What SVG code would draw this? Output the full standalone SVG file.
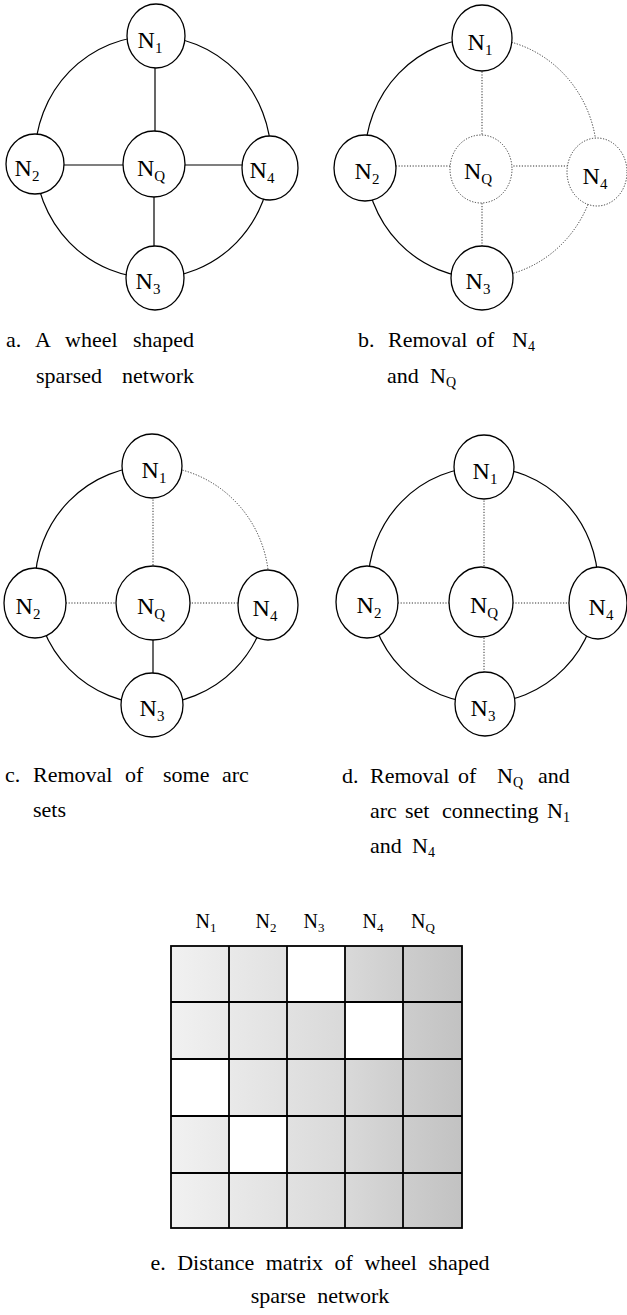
<svg xmlns="http://www.w3.org/2000/svg" width="627" height="1315" viewBox="0 0 627 1315">
  <style>
    text { font-family: "Liberation Serif", "Times New Roman", serif; fill: #000; }
    .lbl { font-size: 24px; text-anchor: middle; }
    .sub { font-size: 15px; }
    .cap { font-size: 22px; }
    .csub { font-size: 14px; }
    .hdr { font-size: 20px; text-anchor: middle; }
    .hsub { font-size: 13px; }
    .node { fill: #fff; stroke: #000; stroke-width: 1.3; }
    .node.gone { stroke: #333; stroke-width: 1; stroke-dasharray: 1.2 1.6; }
    .arc { fill: none; stroke: #000; stroke-width: 1.2; }
    .arc.gone { stroke: #333; stroke-width: 1; stroke-dasharray: 1.2 1.6; }
    .grid { fill: none; stroke: #000; stroke-width: 1.8; }
  </style>
  <defs>
    <linearGradient id="shade" x1="171" y1="0" x2="462" y2="0" gradientUnits="userSpaceOnUse">
      <stop offset="0" stop-color="#f1f1f1"/>
      <stop offset="0.35" stop-color="#e3e3e3"/>
      <stop offset="0.6" stop-color="#d9d9d9"/>
      <stop offset="0.8" stop-color="#cdcdcd"/>
      <stop offset="1" stop-color="#c2c2c2"/>
    </linearGradient>
  </defs>

  <!-- (a) wheel network -->
  <g id="wheel-a">
    <g id="a-connectors">
      <path class="arc" d="M153,36 A118,121 0 0 0 35,157"/>
      <path class="arc" d="M35,157 A118,121 0 0 0 153,278"/>
      <path class="arc" d="M153,36 A118,121 0 0 1 271,157"/>
      <path class="arc" d="M271,157 A118,121 0 0 1 153,278"/>
      <line class="arc" x1="155" y1="36" x2="155" y2="164"/>
      <line class="arc" x1="35" y1="165" x2="270" y2="165"/>
      <line class="arc" x1="154" y1="164" x2="154" y2="278"/>
    </g>
    <g id="a-N1"><ellipse class="node" cx="156" cy="36" rx="29" ry="32"/><text class="lbl" x="150" y="48">N<tspan class="sub" dy="5">1</tspan></text></g>
    <g id="a-N2"><ellipse class="node" cx="35" cy="164" rx="29" ry="30"/><text class="lbl" x="27" y="176">N<tspan class="sub" dy="5">2</tspan></text></g>
    <g id="a-NQ"><ellipse class="node" cx="154" cy="164" rx="31" ry="33"/><text class="lbl" x="151" y="176">N<tspan class="sub" dy="5">Q</tspan></text></g>
    <g id="a-N4"><ellipse class="node" cx="270" cy="168" rx="28" ry="32"/><text class="lbl" x="262" y="178">N<tspan class="sub" dy="5">4</tspan></text></g>
    <g id="a-N3"><ellipse class="node" cx="155" cy="278" rx="29" ry="32"/><text class="lbl" x="148" y="289">N<tspan class="sub" dy="5">3</tspan></text></g>
  </g>

  <!-- (b) N4 and NQ removed -->
  <g id="wheel-b">
    <g id="b-connectors">
      <path class="arc" d="M481,38 A116,120 0 0 0 365,158"/>
      <path class="arc" d="M365,158 A116,120 0 0 0 481,278"/>
      <path class="arc gone" d="M481,38 A116,120 0 0 1 597,158"/>
      <path class="arc gone" d="M597,158 A116,120 0 0 1 481,278"/>
      <line class="arc gone" x1="482" y1="38" x2="482" y2="278"/>
      <line class="arc gone" x1="365" y1="166" x2="597" y2="166"/>
    </g>
    <g id="b-N1"><ellipse class="node" cx="482" cy="38" rx="30" ry="33"/><text class="lbl" x="480" y="50">N<tspan class="sub" dy="5">1</tspan></text></g>
    <g id="b-N2"><ellipse class="node" cx="365" cy="168" rx="31" ry="33"/><text class="lbl" x="367" y="179">N<tspan class="sub" dy="5">2</tspan></text></g>
    <g id="b-NQ"><ellipse class="node gone" cx="481" cy="169" rx="31" ry="34"/><text class="lbl" x="478" y="179">N<tspan class="sub" dy="5">Q</tspan></text></g>
    <g id="b-N4"><ellipse class="node gone" cx="597" cy="172" rx="30" ry="34"/><text class="lbl" x="595" y="184">N<tspan class="sub" dy="5">4</tspan></text></g>
    <g id="b-N3"><ellipse class="node" cx="482" cy="278" rx="31" ry="32"/><text class="lbl" x="478" y="289">N<tspan class="sub" dy="5">3</tspan></text></g>
  </g>

  <!-- (c) some arc sets removed -->
  <g id="wheel-c">
    <g id="c-connectors">
      <path class="arc" d="M152,466 A117,119 0 0 0 35,585"/>
      <path class="arc" d="M35,585 A117,119 0 0 0 152,704"/>
      <path class="arc gone" d="M152,466 A117,119 0 0 1 269,585"/>
      <path class="arc" d="M269,585 A117,119 0 0 1 152,704"/>
      <line class="arc gone" x1="153" y1="466" x2="153" y2="603"/>
      <line class="arc gone" x1="35" y1="603" x2="268" y2="603"/>
      <line class="arc" x1="153" y1="603" x2="153" y2="705"/>
    </g>
    <g id="c-N1"><ellipse class="node" cx="152" cy="466" rx="30" ry="32"/><text class="lbl" x="154" y="478">N<tspan class="sub" dy="5">1</tspan></text></g>
    <g id="c-N2"><ellipse class="node" cx="35" cy="603" rx="31" ry="35"/><text class="lbl" x="28" y="614">N<tspan class="sub" dy="5">2</tspan></text></g>
    <g id="c-NQ"><ellipse class="node" cx="153" cy="603" rx="37" ry="37"/><text class="lbl" x="151" y="614">N<tspan class="sub" dy="5">Q</tspan></text></g>
    <g id="c-N4"><ellipse class="node" cx="268" cy="605" rx="30" ry="35"/><text class="lbl" x="265" y="616">N<tspan class="sub" dy="5">4</tspan></text></g>
    <g id="c-N3"><ellipse class="node" cx="152" cy="705" rx="31" ry="32"/><text class="lbl" x="152" y="716">N<tspan class="sub" dy="5">3</tspan></text></g>
  </g>

  <!-- (d) NQ removed -->
  <g id="wheel-d">
    <g id="d-connectors">
      <path class="arc" d="M483,467 A115,118 0 0 0 368,585"/>
      <path class="arc" d="M368,585 A115,118 0 0 0 483,703"/>
      <path class="arc" d="M483,467 A115,118 0 0 1 598,585"/>
      <path class="arc" d="M598,585 A115,118 0 0 1 483,703"/>
      <line class="arc gone" x1="484" y1="467" x2="484" y2="704"/>
      <line class="arc gone" x1="367" y1="603" x2="598" y2="603"/>
    </g>
    <g id="d-N1"><ellipse class="node" cx="484" cy="467" rx="30" ry="32"/><text class="lbl" x="485" y="479">N<tspan class="sub" dy="5">1</tspan></text></g>
    <g id="d-N2"><ellipse class="node" cx="367" cy="602" rx="31" ry="36"/><text class="lbl" x="369" y="613">N<tspan class="sub" dy="5">2</tspan></text></g>
    <g id="d-NQ"><ellipse class="node" cx="481" cy="602" rx="32" ry="35"/><text class="lbl" x="484" y="613">N<tspan class="sub" dy="5">Q</tspan></text></g>
    <g id="d-N4"><ellipse class="node" cx="598" cy="603" rx="29" ry="36"/><text class="lbl" x="601" y="615">N<tspan class="sub" dy="5">4</tspan></text></g>
    <g id="d-N3"><ellipse class="node" cx="485" cy="704" rx="30" ry="32"/><text class="lbl" x="483" y="716">N<tspan class="sub" dy="5">3</tspan></text></g>
  </g>

  <!-- captions -->
  <g id="captions">
    <text class="cap"><tspan x="6" y="347">a.</tspan><tspan x="35" y="347">A</tspan><tspan x="65" y="347">wheel</tspan><tspan x="133" y="347">shaped</tspan></text>
    <text class="cap"><tspan x="36" y="383">sparsed</tspan><tspan x="122" y="383">network</tspan></text>

    <text class="cap"><tspan x="358" y="347">b.</tspan><tspan x="388" y="347">Removal</tspan><tspan x="476" y="347">of</tspan><tspan x="512" y="347">N</tspan><tspan class="csub" dy="4">4</tspan></text>
    <text class="cap"><tspan x="387" y="383">and</tspan><tspan x="430" y="383">N</tspan><tspan class="csub" dy="4">Q</tspan></text>

    <text class="cap"><tspan x="5" y="782">c.</tspan><tspan x="33" y="782">Removal</tspan><tspan x="125" y="782">of</tspan><tspan x="163" y="782">some</tspan><tspan x="222" y="782">arc</tspan></text>
    <text class="cap"><tspan x="33" y="817">sets</tspan></text>

    <text class="cap"><tspan x="342" y="783">d.</tspan><tspan x="370" y="783">Removal</tspan><tspan x="458" y="783">of</tspan><tspan x="497" y="783">N</tspan><tspan class="csub" dy="4">Q</tspan><tspan x="538" y="783">and</tspan></text>
    <text class="cap"><tspan x="370" y="818">arc</tspan><tspan x="405" y="818">set</tspan><tspan x="442" y="818">connecting</tspan><tspan x="547" y="818">N</tspan><tspan class="csub" dy="4">1</tspan></text>
    <text class="cap"><tspan x="370" y="853">and</tspan><tspan x="412" y="853">N</tspan><tspan class="csub" dy="4">4</tspan></text>

    <text class="cap" x="320" y="1270" text-anchor="middle" word-spacing="6">e. Distance matrix of wheel shaped</text>
    <text class="cap" x="320" y="1303" text-anchor="middle" word-spacing="6">sparse network</text>
  </g>

  <!-- (e) distance matrix -->
  <g id="matrix">
    <g id="matrix-header">
      <text class="hdr" x="206" y="928">N<tspan class="hsub" dy="4">1</tspan></text>
      <text class="hdr" x="266" y="928">N<tspan class="hsub" dy="4">2</tspan></text>
      <text class="hdr" x="314" y="928">N<tspan class="hsub" dy="4">3</tspan></text>
      <text class="hdr" x="373" y="928">N<tspan class="hsub" dy="4">4</tspan></text>
      <text class="hdr" x="423" y="928">N<tspan class="hsub" dy="4">Q</tspan></text>
    </g>
    <rect x="171" y="946" width="291" height="282" fill="url(#shade)"/>
    <g id="matrix-empty" fill="#fff">
      <rect x="287" y="946" width="58" height="56"/>
      <rect x="345" y="1002" width="58" height="57"/>
      <rect x="171" y="1059" width="58" height="57"/>
      <rect x="229" y="1116" width="58" height="57"/>
    </g>
    <g id="matrix-grid" class="grid">
      <rect x="171" y="946" width="291" height="282"/>
      <path d="M229,946 V1228 M287,946 V1228 M345,946 V1228 M403,946 V1228 M171,1002 H462 M171,1059 H462 M171,1116 H462 M171,1173 H462"/>
    </g>
  </g>
</svg>
